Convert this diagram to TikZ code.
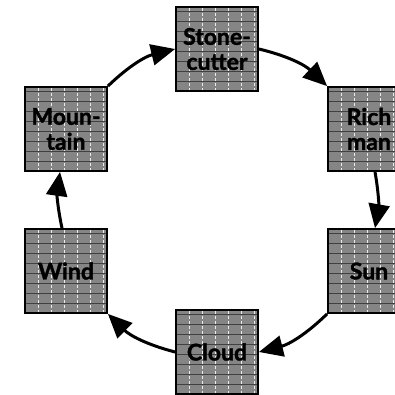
\documentclass[tikz,border=0pt]{standalone}
\usepackage{fontspec}
\setmainfont{Lato}[BoldFeatures={FakeBold=1.6}]
\usetikzlibrary{arrows.meta}
\definecolor{boxgray}{rgb}{0.52,0.52,0.52}
\tikzset{
  tex/.style={
    path picture={
      \foreach \i in {1,...,8}
        \draw[black!75, line width=0.8pt]
          ([yshift=\i*10pt]path picture bounding box.south west) -- ++(90pt,0);
      \foreach \j in {1,...,6}
        \draw[white!85!gray, line width=0.7pt, dash pattern=on 3pt off 2pt]
          ([xshift=\j*13pt]path picture bounding box.south west) -- ++(0,90pt);
    }
  },
  box/.style={draw=black, line width=1.8pt, fill=boxgray, tex,
    minimum width=82pt, minimum height=84pt, inner sep=0pt,
    align=center, font=\fontsize{23}{25}\selectfont\bfseries},
  arr/.style={line width=3pt, -{Triangle[length=24pt,width=21pt]}}
}
\begin{document}
\begin{tikzpicture}[x=1pt,y=1pt]
\useasboundingbox (0,0) rectangle (395,394);
\clip (0,0) rectangle (395,394);
\node[box] (stone) at (217,345) {Stone-\\cutter};
\node[box] (rich)  at (369,265) {Rich\\man};
\node[box] (sun)   at (369,123) {Sun};
\node[box] (cloud) at (217,42)  {Cloud};
\node[box] (wind)  at (66,123)  {Wind};
\node[box] (mtn)   at (66,265)  {Moun-\\tain};
\draw[arr] (mtn.north east) to[bend left=15] (stone.west);
\draw[arr] (stone.east) to[bend left=15] (rich.north west);
\draw[arr] ([xshift=6pt]rich.south) to[bend left=10] ([xshift=6pt]sun.north);
\draw[arr] (sun.south west) to[bend left=15] (cloud.east);
\draw[arr] (cloud.west) to[bend left=15] (wind.south east);
\draw[arr] ([xshift=-4pt]wind.north) to[bend left=10] ([xshift=-6pt]mtn.south);
\end{tikzpicture}
\end{document}
